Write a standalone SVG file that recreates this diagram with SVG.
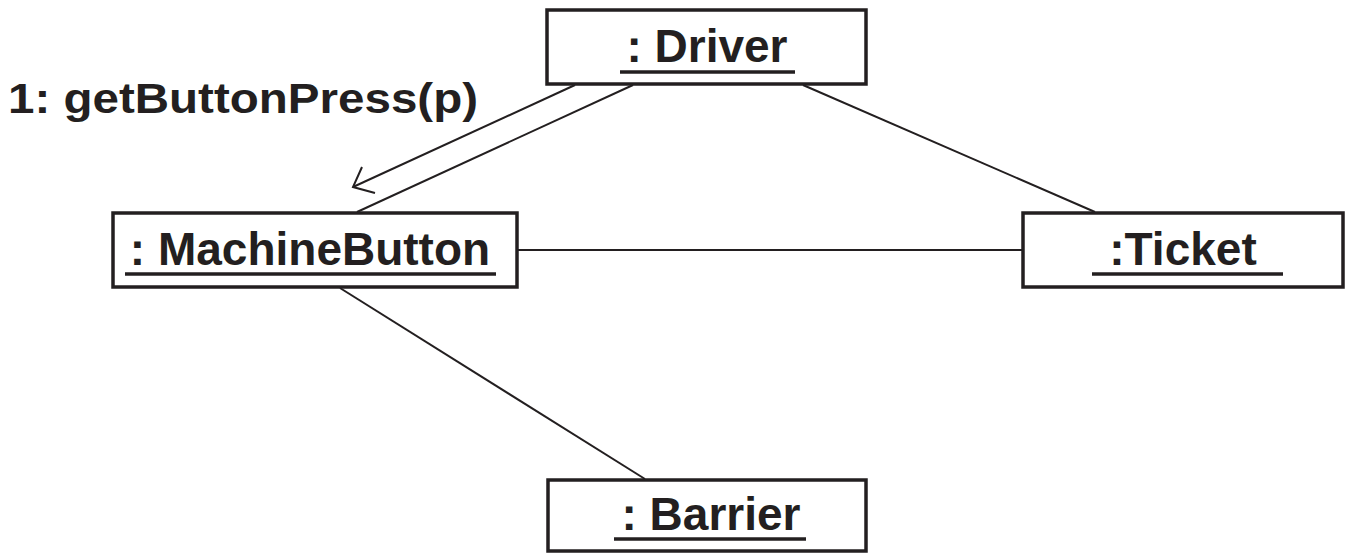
<svg xmlns="http://www.w3.org/2000/svg" width="1346" height="554" viewBox="0 0 1346 554">
<style>
.box{fill:#fff;stroke:#231f20;stroke-width:3.5}
.lbl{font-family:"Liberation Sans",Arial,sans-serif;font-weight:bold;font-size:46px;fill:#231f20;text-anchor:middle}
.ul{stroke:#231f20;stroke-width:3.5}
.conn{stroke:#231f20;stroke-width:2;fill:none}
.msg{font-family:"Liberation Sans",Arial,sans-serif;font-weight:bold;font-size:43px;fill:#231f20}
</style>
<g id="connectors">
<line class="conn" x1="633" y1="85" x2="357" y2="212"/>
<line class="conn" x1="803" y1="85" x2="1095" y2="212"/>
<line class="conn" x1="517" y1="250" x2="1023" y2="250"/>
<line class="conn" x1="340" y1="288" x2="645" y2="479"/>
<line class="conn" x1="575" y1="85" x2="353" y2="187"/>
<polyline class="conn" points="362,167 353,187 375,193"/>
</g>
<g id="label-msg">
<text class="msg" x="8" y="113" textLength="470" lengthAdjust="spacingAndGlyphs">1: getButtonPress(p)</text>
</g>
<g id="driver">
<rect class="box" x="547" y="10" width="319" height="74"/>
<text class="lbl" x="707" y="62">: Driver</text>
<line class="ul" x1="620" y1="72" x2="795" y2="72"/>
</g>
<g id="machinebutton">
<rect class="box" x="113" y="213" width="404" height="74"/>
<text class="lbl" x="310" y="265">: MachineButton</text>
<line class="ul" x1="125" y1="274" x2="496" y2="274"/>
</g>
<g id="ticket">
<rect class="box" x="1023" y="213" width="320" height="74"/>
<text class="lbl" x="1183" y="265">:Ticket</text>
<line class="ul" x1="1092" y1="274" x2="1283" y2="274"/>
</g>
<g id="barrier">
<rect class="box" x="548" y="480" width="318" height="71"/>
<text class="lbl" x="711" y="530">: Barrier</text>
<line class="ul" x1="614" y1="539" x2="806" y2="539"/>
</g>
</svg>
